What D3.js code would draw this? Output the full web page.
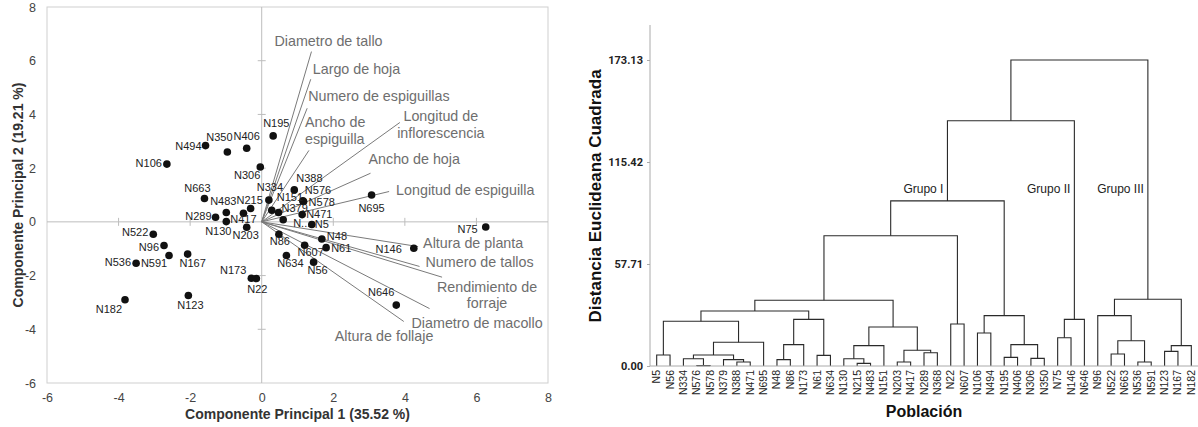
<!DOCTYPE html>
<html>
<head>
<meta charset="utf-8">
<script src="https://cdn.jsdelivr.net/npm/d3@7"></script>
<style>
  body { margin: 0; background: #fff; }
  text { font-family: "Liberation Sans", Arial, sans-serif; }
</style>
</head>
<body>
<svg id="chart" width="1198" height="427"></svg>
<script>
// ---- PCA biplot: population scores ----
var pcaNames = ["N195","N494","N350","N406","N106","N306","N663","N483","N215","N334",
                "N289","N417","N130","N203","N151","N379","N388","N576","N578","N471",
                "N695","N...","N5","N48","N61","N607","N86","N634","N56","N146",
                "N75","N646","N173","N22","N522","N96","N591","N536","N167","N182","N123"];
var pcaX = [0.32,-1.57,-0.96,-0.42,-2.65,-0.04,-1.6,-0.99,-0.31,0.2,
            -1.29,-0.51,-0.99,-0.42,0.28,0.47,0.91,1.15,1.17,1.13,
            3.07,0.6,1.4,1.68,1.8,1.2,0.48,0.69,1.45,4.25,
            6.26,3.76,-0.29,-0.15,-3.03,-2.73,-2.59,-3.51,-2.07,-3.82,-2.05];
var pcaY = [3.2,2.84,2.6,2.74,2.15,2.04,0.87,0.35,0.5,0.81,
            0.17,0.32,0.01,-0.2,0.43,0.35,1.19,0.78,0.76,0.27,
            1.0,0.08,-0.1,-0.64,-0.96,-0.87,-0.46,-1.25,-1.5,-0.98,
            -0.19,-3.1,-2.1,-2.11,-0.46,-0.88,-1.25,-1.54,-1.2,-2.9,-2.74];

// ---- PCA biplot: variable vectors ----
var varNames = ["Diametro de tallo","Largo de hoja","Numero de espiguillas","Ancho de\nespiguilla",
                "Longitud de\ninflorescencia","Ancho de hoja","Longitud de espiguilla","Altura de planta",
                "Numero de tallos","Rendimiento de\nforraje","Diametro de macollo","Altura de follaje"];
var varX = [1.39,1.37,1.27,1.32,3.86,3.04,3.56,4.37,4.41,5.04,4.69,3.97];
var varY = [6.34,5.31,4.23,2.66,3.70,1.81,1.13,-0.92,-1.66,-2.06,-3.23,-3.71];
var pcaTicks = [-6,-4,-2,0,2,4,6,8];

// ---- Dendrogram ----
var leaves = ["N5","N56","N334","N576","N578","N379","N388","N471","N695","N48","N86","N173",
              "N61","N634","N130","N215","N483","N151","N203","N417","N289","N368","N22","N607",
              "N106","N494","N195","N406","N306","N350","N75","N146","N646","N96","N522","N663",
              "N536","N591","N123","N167","N182"];
// [child a, child b, height]; "m#" refers to an earlier merge
var merges = [
  ["N5","N56",6.2], ["N576","N578",0.2], ["N334","m1",4.1], ["N388","N471",2.3],
  ["N379","m3",3.6], ["m2","m4",6.2], ["m5","N695",13.4], ["m0","m6",25.3],
  ["N48","N86",3.6], ["m8","N173",12.1], ["N61","N634",6.0], ["m9","m10",26.4],
  ["m7","m11",31.1], ["N215","N483",1.5], ["N130","m13",4.1], ["m14","N151",11.5],
  ["N203","N417",2.3], ["N289","N368",7.5], ["m16","m17",8.9], ["m15","m18",22.1],
  ["m12","m19",37.2], ["N22","N607",23.8], ["m20","m21",73.7], ["N106","N494",18.7],
  ["N195","N406",4.9], ["N306","N350",4.3], ["m24","m25",12.1], ["m23","m26",28.5],
  ["m22","m27",93.4], ["N75","N146",16.0], ["m29","N646",26.4], ["m28","m30",138.8],
  ["N522","N663",6.8], ["N536","N591",2.3], ["m32","m33",14.3], ["N96","m34",28.5],
  ["N123","N167",8.3], ["m36","N182",11.5], ["m35","m37",37.8], ["m31","m38",173.13]
];
var distTicks = [0, 57.71, 115.42, 173.13];
var groupNames = ["Grupo I","Grupo II","Grupo III"];
var groupMerges = ["m28","m30","m38"];

// label placement for the biplot: [anchor, dx, dy]
var pointLabelPos = {
  "N195":["start",-10,-9], "N494":["end",-4,4], "N350":["middle",-8,-11], "N406":["middle",0,-8],
  "N106":["end",-5,3], "N306":["end",0,12], "N663":["middle",-7,-6], "N483":["middle",-3,-7],
  "N215":["middle",-1,-4], "N334":["middle",1,-9], "N289":["end",-4,3], "N417":["middle",0,10],
  "N130":["middle",-8,13], "N203":["middle",-1,12], "N151":["start",5,-9], "N379":["start",3,0],
  "N388":["start",2,-8], "N576":["start",2,-7], "N578":["start",5,5], "N471":["start",4,3],
  "N695":["middle",0,17], "N...":["start",10,7], "N5":["start",3,3], "N48":["start",5,1],
  "N61":["start",5,4], "N607":["middle",6,11], "N86":["middle",1,11], "N634":["middle",4,12],
  "N56":["middle",4,12], "N146":["end",-12,5], "N75":["end",-8,6], "N646":["end",-2,-9],
  "N173":["end",-5,-4], "N22":["middle",1,14], "N522":["end",-5,2], "N96":["end",-5,6],
  "N591":["middle",-15,12], "N536":["end",-5,3], "N167":["middle",5,13], "N182":["end",-3,13],
  "N123":["middle",2,14]
};
var varLabelPos = [
  ["start",-37,-6], ["start",2,-5], ["start",1,-7], ["start",-4,-23],
  ["middle",41,-1], ["start",-2,-9], ["start",7,3], ["start",5,1],
  ["start",6,1], ["middle",45,15], ["start",-18,19], ["start",-69,20]
];

var svg = d3.select("#chart");

// ================= left panel: biplot =================
var x = d3.scaleLinear().domain([-6, 8]).range([47, 548]);
var y = d3.scaleLinear().domain([-6, 8]).range([383, 7]);
var left = svg.append("g");

left.append("rect")
  .attr("x", x(-6)).attr("y", y(8))
  .attr("width", x(8) - x(-6)).attr("height", y(-6) - y(8))
  .attr("fill", "none").attr("stroke", "#cfcfcf");

// zero lines
left.append("line").attr("x1", x(-6)).attr("x2", x(8)).attr("y1", y(0)).attr("y2", y(0))
  .attr("stroke", "#bdbdbd");
left.append("line").attr("x1", x(0)).attr("x2", x(0)).attr("y1", y(-6)).attr("y2", y(8))
  .attr("stroke", "#bdbdbd");

// small ticks on the zero lines
var inner = pcaTicks.filter(d => d > -6 && d < 8 && d !== 0);
left.selectAll(".vt").data(inner).enter().append("line")
  .attr("x1", x(0) - 4).attr("x2", x(0) + 4)
  .attr("y1", d => y(d)).attr("y2", d => y(d)).attr("stroke", "#bdbdbd");
left.selectAll(".ht").data(inner).enter().append("line")
  .attr("y1", y(0) - 4).attr("y2", y(0) + 4)
  .attr("x1", d => x(d)).attr("x2", d => x(d)).attr("stroke", "#bdbdbd");

// tick labels
var xAx = left.append("g").attr("transform", `translate(0, ${y(-6)})`)
  .call(d3.axisBottom(x).tickValues(pcaTicks).tickSize(0).tickPadding(10));
var yAx = left.append("g").attr("transform", `translate(${x(-6)}, 0)`)
  .call(d3.axisLeft(y).tickValues(pcaTicks).tickSize(0).tickPadding(11));
[xAx, yAx].forEach(a => {
  a.select(".domain").remove();
  a.selectAll("text").attr("font-size", "12.5px").attr("fill", "#444")
    .style("font-family", "'Liberation Sans', Arial, sans-serif");
});
xAx.selectAll("text").text(d => d < 0 ? "-" + Math.abs(d) : d);
yAx.selectAll("text").text(d => d < 0 ? "-" + Math.abs(d) : d);

left.append("text")
  .attr("x", (x(-6) + x(8)) / 2).attr("y", 419)
  .attr("text-anchor", "middle").attr("font-weight", 700).attr("font-size", "14px")
  .attr("fill", "#333")
  .text("Componente Principal 1 (35.52 %)");
left.append("text")
  .attr("transform", `translate(23, ${(y(-6) + y(8)) / 2}) rotate(-90)`)
  .attr("text-anchor", "middle").attr("font-weight", 700).attr("font-size", "14px")
  .attr("fill", "#333")
  .text("Componente Principal 2 (19.21 %)");

// vectors
var vecs = varNames.map((n, i) => ({name: n, x: varX[i], y: varY[i], pos: varLabelPos[i]}));
left.selectAll(".vec").data(vecs).enter().append("line")
  .attr("x1", x(0)).attr("y1", y(0))
  .attr("x2", d => x(d.x)).attr("y2", d => y(d.y))
  .attr("stroke", "#7a7a7a").attr("stroke-width", 1);
var vlab = left.selectAll(".vlab").data(vecs).enter().append("text")
  .attr("x", d => x(d.x) + d.pos[1]).attr("y", d => y(d.y) + d.pos[2])
  .attr("text-anchor", d => d.pos[0])
  .attr("font-size", "14.3px").attr("fill", "#6e6e6e");
vlab.each(function(d) {
  var t = d3.select(this);
  d.name.split("\n").forEach((line, k) => {
    t.append("tspan").attr("x", x(d.x) + d.pos[1]).attr("dy", k === 0 ? 0 : 16.3).text(line);
  });
});

// points
var pts = pcaNames.map((n, i) => ({name: n, x: pcaX[i], y: pcaY[i], pos: pointLabelPos[n]}));
left.selectAll(".pt").data(pts).enter().append("circle")
  .attr("cx", d => x(d.x)).attr("cy", d => y(d.y)).attr("r", 3.8).attr("fill", "#111");
left.selectAll(".plab").data(pts).enter().append("text")
  .attr("x", d => x(d.x) + d.pos[1]).attr("y", d => y(d.y) + d.pos[2])
  .attr("text-anchor", d => d.pos[0])
  .attr("font-size", "11px").attr("fill", "#222")
  .text(d => d.name);

// ================= right panel: dendrogram =================
var xb = d3.scaleBand().domain(leaves).range([650, 1198]);
var yd = d3.scaleLinear().domain([0, 173.13]).range([366, 60]);
var right = svg.append("g");

var nodes = {};
leaves.forEach(l => { nodes[l] = {x: xb(l) + xb.bandwidth() / 2, h: 0}; });
merges.forEach((m, i) => {
  var a = nodes[m[0]], b = nodes[m[1]];
  nodes["m" + i] = {x: (a.x + b.x) / 2, h: m[2], a: a, b: b};
});
var mergeList = merges.map((m, i) => nodes["m" + i]);

right.selectAll(".link").data(mergeList).enter().append("path")
  .attr("d", d => `M${d.a.x},${yd(d.a.h)}V${yd(d.h)}H${d.b.x}V${yd(d.b.h)}`)
  .attr("fill", "none").attr("stroke", "#2a2a2a").attr("stroke-width", 1.1);

// axes
var yAxD = right.append("g").attr("transform", "translate(650, 0)")
  .call(d3.axisLeft(yd).tickValues(distTicks).tickFormat(d3.format(".2f")).tickSize(3).tickPadding(4));
yAxD.select(".domain").remove();
yAxD.selectAll("line").attr("stroke", "#aaa");
yAxD.selectAll("text").attr("font-size", "11px").attr("font-weight", 700).attr("fill", "#222")
  .style("font-family", "Roboto, sans-serif");
right.append("line").attr("x1", 650).attr("x2", 650).attr("y1", 25).attr("y2", 366)
  .attr("stroke", "#aaa");
right.append("line").attr("x1", 650).attr("x2", 1198).attr("y1", 366).attr("y2", 366)
  .attr("stroke", "#aaa");

right.selectAll(".leaf").data(leaves).enter().append("text")
  .attr("transform", d => `translate(${xb(d) + xb.bandwidth() / 2 + 3.5}, 370) rotate(-90)`)
  .attr("text-anchor", "end").attr("font-size", "10.5px").attr("fill", "#222")
  .text(d => d);

right.selectAll(".grp").data(groupMerges).enter().append("text")
  .attr("x", d => nodes[d].x - 4).attr("y", 193)
  .attr("text-anchor", "end").attr("font-size", "12px").attr("fill", "#222")
  .text((d, i) => groupNames[i]);

right.append("text")
  .attr("x", 924).attr("y", 417)
  .attr("text-anchor", "middle").attr("font-weight", 700).attr("font-size", "16px")
  .attr("fill", "#111").text("Población");
right.append("text")
  .attr("transform", "translate(601, 196) rotate(-90)")
  .attr("text-anchor", "middle").attr("font-weight", 700).attr("font-size", "17px")
  .attr("fill", "#111").text("Distancia Euclideana Cuadrada");
</script>
</body>
</html>
